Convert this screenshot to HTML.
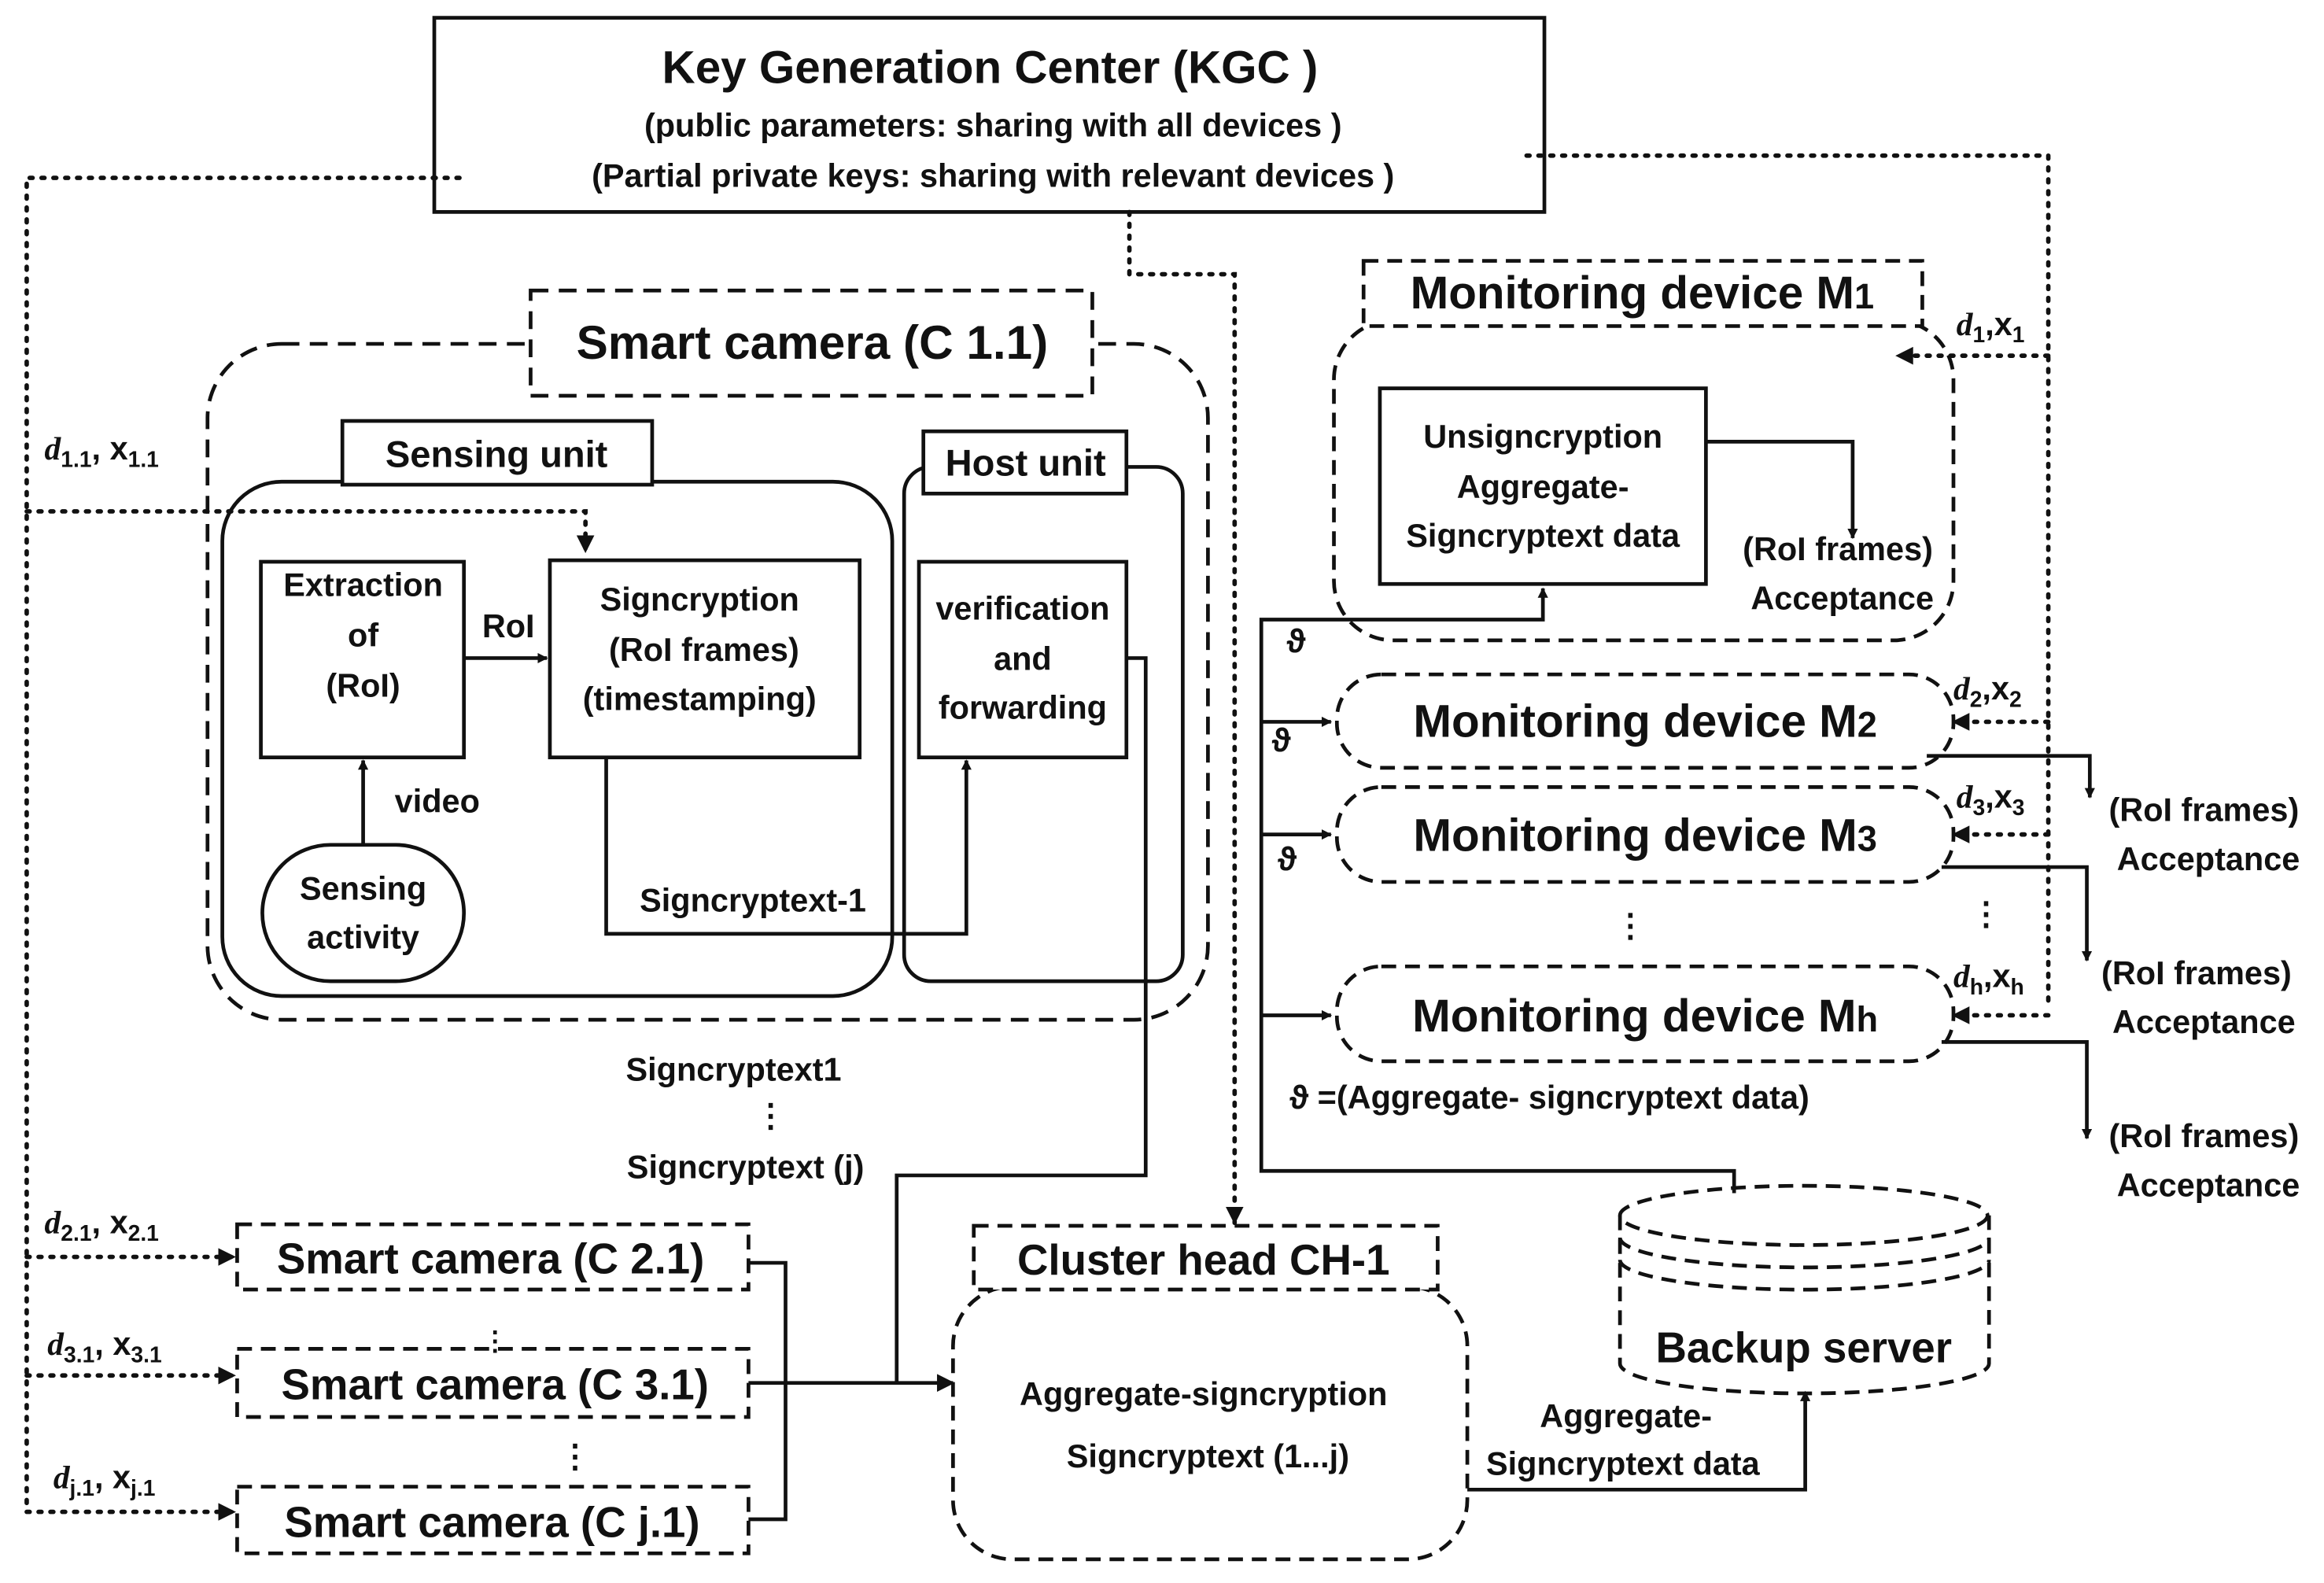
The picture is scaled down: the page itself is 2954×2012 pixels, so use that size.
<!DOCTYPE html>
<html><head><meta charset="utf-8"><style>
html,body{margin:0;padding:0;background:#fff;}
svg{display:block;}
text{font-family:"Liberation Sans",sans-serif;font-weight:bold;fill:#111;}
</style></head><body>
<svg width="2954" height="2012" viewBox="0 0 1568 1068" xmlns="http://www.w3.org/2000/svg">
<defs>
<marker id="a" viewBox="0 0 10 10" refX="9" refY="5" markerWidth="7" markerHeight="7" orient="auto-start-reverse" markerUnits="userSpaceOnUse"><path d="M0,0L10,5L0,10z" fill="#111"/></marker>
<marker id="b" viewBox="0 0 10 10" refX="9" refY="5" markerWidth="12" markerHeight="12" orient="auto" markerUnits="userSpaceOnUse"><path d="M0,0L10,5L0,10z" fill="#111"/></marker>
</defs>
<g fill="none" stroke="#111" stroke-width="2.5">
<!-- KGC -->
<rect x="293" y="12" width="749" height="131"/>
<!-- dotted lines -->
<g stroke-dasharray="2 6" stroke-linecap="round" stroke-width="3">
<path d="M310,120H18V1020"/>
<path d="M18,345H395V372" marker-end="url(#b)"/>
<path d="M18,848H158" marker-end="url(#b)"/>
<path d="M18,928H158" marker-end="url(#b)"/>
<path d="M18,1020H158" marker-end="url(#b)"/>
<path d="M762,143V185H833V825" marker-end="url(#b)"/>
<path d="M1030,105H1382V680"/>
<path d="M1382,240H1280" marker-end="url(#b)"/>
<path d="M1382,487H1318" marker-end="url(#b)"/>
<path d="M1382,563H1318" marker-end="url(#b)"/>
<path d="M1382,685H1318" marker-end="url(#b)"/>
</g>
<!-- Smart camera C1.1 -->
<g stroke-dasharray="12 7">
<rect x="140" y="232" width="675" height="456" rx="50"/>
</g>
<rect x="358" y="196" width="379" height="71" fill="#fff" stroke-dasharray="12 7"/>
<rect x="150" y="325" width="452" height="347" rx="40"/>
<rect x="231" y="284" width="209" height="43" fill="#fff"/>
<rect x="610" y="315" width="188" height="347" rx="18"/>
<rect x="623" y="291" width="137" height="42" fill="#fff"/>
<rect x="176" y="379" width="137" height="132"/>
<rect x="371" y="378" width="209" height="133"/>
<rect x="620" y="379" width="140" height="132"/>
<rect x="177" y="570" width="136" height="92" rx="46"/>
<path d="M313,444H369" marker-end="url(#a)"/>
<path d="M245,570V513" marker-end="url(#a)"/>
<path d="M409,511V630H652V513" marker-end="url(#a)"/>
<path d="M760,444H773V793H605V933"/>
<path d="M505,933H643" marker-end="url(#b)"/>
<path d="M505,852H530V1025H505"/>
<!-- Smart cameras -->
<g stroke-dasharray="10 6">
<rect x="160" y="826" width="345" height="44"/>
<rect x="160" y="910" width="345" height="46"/>
<rect x="160" y="1003" width="345" height="45"/>
<rect x="643" y="868" width="347" height="184" rx="40"/>
</g>
<rect x="657" y="827" width="313" height="43" fill="#fff" stroke-dasharray="10 6"/>
<path d="M990,1005H1218V939" marker-end="url(#a)"/>
<!-- backup server -->
<g stroke-dasharray="10 6">
<path d="M1093,820V920A124,20 0 0 0 1342,920V820"/>
<ellipse cx="1217" cy="820" rx="124" ry="20"/>
<path d="M1093,835A124,20 0 0 0 1342,835"/>
<path d="M1093,850A124,20 0 0 0 1342,850"/>
</g>
<path d="M1170,805V790H851V418H1041V397" marker-end="url(#a)"/>
<path d="M851,487H898" marker-end="url(#a)"/>
<path d="M851,563H898" marker-end="url(#a)"/>
<path d="M851,685H898" marker-end="url(#a)"/>
<!-- monitoring -->
<g stroke-dasharray="10 6">
<rect x="900" y="216" width="418" height="216" rx="40"/>
<rect x="902" y="455" width="416" height="63" rx="30"/>
<rect x="902" y="531" width="416" height="64" rx="30"/>
<rect x="902" y="652" width="416" height="64" rx="30"/>
</g>
<rect x="920" y="176" width="377" height="44" fill="#fff" stroke-dasharray="10 6"/>
<rect x="931" y="262" width="220" height="132"/>
<path d="M1151,298H1250V363" marker-end="url(#a)"/>
<path d="M1300,510H1410V538" marker-end="url(#a)"/>
<path d="M1310,585H1408V648" marker-end="url(#a)"/>
<path d="M1310,703H1408V768" marker-end="url(#a)"/>
</g>
<g text-anchor="middle">
<text x="668" y="56" font-size="31">Key Generation Center (KGC )</text>
<text x="670" y="92" font-size="22">(public parameters: sharing with all devices )</text>
<text x="670" y="126" font-size="22">(Partial private keys: sharing with relevant devices  )</text>
<text x="548" y="242" font-size="32">Smart camera (C 1.1)</text>
<text x="335" y="315" font-size="25">Sensing unit</text>
<text x="692" y="321" font-size="25">Host unit</text>
<text x="245" y="402" font-size="22">Extraction</text>
<text x="245" y="436" font-size="22">of</text>
<text x="245" y="470" font-size="22">(RoI)</text>
<text x="343" y="430" font-size="22">RoI</text>
<text x="472" y="412" font-size="22">Signcryption</text>
<text x="475" y="446" font-size="22">(RoI frames)</text>
<text x="472" y="479" font-size="22">(timestamping)</text>
<text x="690" y="418" font-size="22">verification</text>
<text x="690" y="452" font-size="22">and</text>
<text x="690" y="485" font-size="22">forwarding</text>
<text x="295" y="548" font-size="22">video</text>
<text x="245" y="607" font-size="22">Sensing</text>
<text x="245" y="640" font-size="22">activity</text>
<text x="508" y="615" font-size="22">Signcryptext-1</text>
<text x="495" y="729" font-size="22">Signcryptext1</text>
<text x="520" y="760" font-size="22">⋮</text>
<text x="503" y="795" font-size="22">Signcryptext (j)</text>
<text x="331" y="859" font-size="29">Smart camera  (C 2.1)</text>
<text x="334" y="944" font-size="29">Smart camera (C 3.1)</text>
<text x="334" y="911" font-size="18">⋮</text>
<text x="388" y="990" font-size="22">⋮</text>
<text x="332" y="1037" font-size="29">Smart camera (C j.1)</text>
<text x="812" y="860" font-size="29">Cluster head CH-1</text>
<text x="812" y="948" font-size="22">Aggregate-signcryption</text>
<text x="815" y="990" font-size="22">Signcryptext (1...j)</text>
<text x="1097" y="963" font-size="22">Aggregate-</text>
<text x="1095" y="995" font-size="22">Signcryptext data</text>
<text x="1217" y="919" font-size="29">Backup server</text>
<text x="1108" y="208" font-size="31">Monitoring device M<tspan font-size="24">1</tspan></text>
<text x="1041" y="302" font-size="22">Unsigncryption</text>
<text x="1041" y="336" font-size="22">Aggregate-</text>
<text x="1041" y="369" font-size="22">Signcryptext data</text>
<text x="1240" y="378" font-size="22">(RoI frames)</text>
<text x="1243" y="411" font-size="22">Acceptance</text>
<text x="1110" y="497" font-size="31">Monitoring device M<tspan font-size="24">2</tspan></text>
<text x="1110" y="574" font-size="31">Monitoring device M<tspan font-size="24">3</tspan></text>
<text x="1110" y="696" font-size="31">Monitoring device M<tspan font-size="24">h</tspan></text>
<text x="1100" y="632" font-size="22">⋮</text>
<text x="1340" y="624" font-size="22">⋮</text>
<text x="1487" y="554" font-size="22">(RoI frames)</text>
<text x="1490" y="587" font-size="22">Acceptance</text>
<text x="1482" y="664" font-size="22">(RoI frames)</text>
<text x="1487" y="697" font-size="22">Acceptance</text>
<text x="1487" y="774" font-size="22">(RoI frames)</text>
<text x="1490" y="807" font-size="22">Acceptance</text>
</g>
<g font-size="22">
<text x="868" y="440">ϑ</text>
<text x="858" y="507">ϑ</text>
<text x="862" y="587">ϑ</text>
<text x="870" y="748">ϑ  =(Aggregate- signcryptext data)</text>
<text x="30" y="310"><tspan font-family="Liberation Serif" font-style="italic">d</tspan><tspan font-size="15" dy="5">1.1</tspan><tspan dy="-5">, x</tspan><tspan font-size="15" dy="5">1.1</tspan></text>
<text x="30" y="832"><tspan font-family="Liberation Serif" font-style="italic">d</tspan><tspan font-size="15" dy="5">2.1</tspan><tspan dy="-5">, x</tspan><tspan font-size="15" dy="5">2.1</tspan></text>
<text x="32" y="914"><tspan font-family="Liberation Serif" font-style="italic">d</tspan><tspan font-size="15" dy="5">3.1</tspan><tspan dy="-5">, x</tspan><tspan font-size="15" dy="5">3.1</tspan></text>
<text x="36" y="1004"><tspan font-family="Liberation Serif" font-style="italic">d</tspan><tspan font-size="15" dy="5">j.1</tspan><tspan dy="-5">, x</tspan><tspan font-size="15" dy="5">j.1</tspan></text>
<text x="1320" y="226"><tspan font-family="Liberation Serif" font-style="italic">d</tspan><tspan font-size="15" dy="5">1</tspan><tspan dy="-5">,x</tspan><tspan font-size="15" dy="5">1</tspan></text>
<text x="1318" y="472"><tspan font-family="Liberation Serif" font-style="italic">d</tspan><tspan font-size="15" dy="5">2</tspan><tspan dy="-5">,x</tspan><tspan font-size="15" dy="5">2</tspan></text>
<text x="1320" y="545"><tspan font-family="Liberation Serif" font-style="italic">d</tspan><tspan font-size="15" dy="5">3</tspan><tspan dy="-5">,x</tspan><tspan font-size="15" dy="5">3</tspan></text>
<text x="1318" y="666"><tspan font-family="Liberation Serif" font-style="italic">d</tspan><tspan font-size="15" dy="5">h</tspan><tspan dy="-5">,x</tspan><tspan font-size="15" dy="5">h</tspan></text>
</g>
</svg>
</body></html>
